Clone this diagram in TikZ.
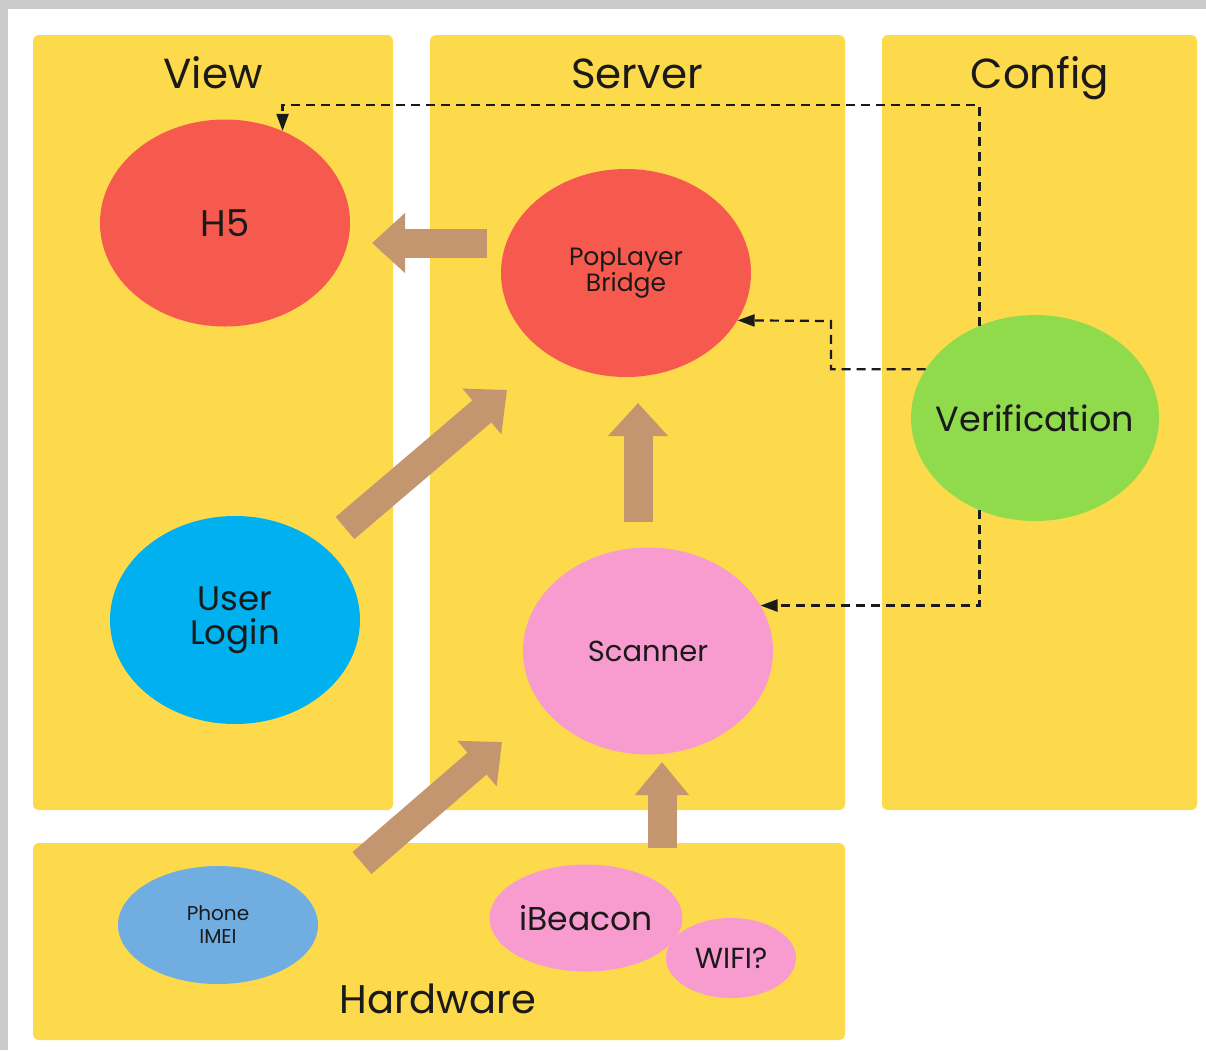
\documentclass[tikz,border=0pt]{standalone}
\usepackage{fontspec}
\setmainfont{Poppins}
\usetikzlibrary{arrows.meta,shapes.geometric}
\definecolor{panelc}{HTML}{FDD94C}
\definecolor{frame}{HTML}{CBCBCB}
\definecolor{redc}{HTML}{F65A4E}
\definecolor{greenc}{HTML}{8FDB4C}
\definecolor{bluec}{HTML}{00B0EF}
\definecolor{pinkc}{HTML}{F89BCF}
\definecolor{phonec}{HTML}{70AEE2}
\definecolor{arrowc}{HTML}{C3966F}
\definecolor{ink}{HTML}{1A1A1A}
\begin{document}
\begin{tikzpicture}[x=1pt,y=-1pt,
  panelbox/.style={fill=panelc, rounded corners=6pt},
  title/.style={text=ink, anchor=base, font=\fontsize{42}{46}\selectfont},
  ell/.style={ellipse, inner sep=0pt, text=ink, align=center},
  bigarrow/.style={draw=arrowc, line width=29pt, line cap=butt,
    -{Triangle[length=33pt,width=58pt]}},
  dsh/.style={draw=ink, line width=2.2pt, dash pattern=on 9pt off 6pt,
    -{Triangle[length=17pt,width=12pt]}}
]
\useasboundingbox (0,0) rectangle (1206,1050);
\fill[frame] (0,0) rectangle (1206,1050);
\fill[white] (8,9) rectangle (1206,1050);

% panels
\fill[panelbox] (33,35) rectangle (393,810);
\fill[panelbox] (430,35) rectangle (845,810);
\fill[panelbox] (882,35) rectangle (1197,810);
\fill[panelbox] (33,843) rectangle (845,1040);

% titles
\node[title] (tview) at (213,88) {View};
\node[title] (tserver) at (637,88) {Server};
\node[title] (tconfig) at (1040,88) {Config};
\node[title, font=\fontsize{40}{44}\selectfont] (thw) at (438,1013) {Hardware};

% ellipses
\node[ell, fill=redc, minimum width=250pt, minimum height=207pt,
  font=\fontsize{37}{42}\selectfont] (h5) at (225,223) {H5};
\node[ell, fill=redc, minimum width=250pt, minimum height=208pt,
  font=\fontsize{25}{23}\selectfont] (pop) at (626,273) {PopLayer\\Bridge};
\node[ell, fill=greenc, minimum width=248pt, minimum height=206pt,
  font=\fontsize{35}{40}\selectfont] (ver) at (1035,418) {\makebox[0pt]{Verification}};
\node[ell, fill=bluec, minimum width=250pt, minimum height=208pt,
  font=\fontsize{34}{34}\selectfont] (login) at (235,620) {User\\Login};
\node[ell, fill=pinkc, minimum width=250pt, minimum height=207pt,
  font=\fontsize{29}{32}\selectfont] (scan) at (648,651) {Scanner};
\node[ell, fill=phonec, minimum width=200pt, minimum height=118pt,
  font=\fontsize{20}{23}\selectfont] (imei) at (218,925) {Phone\\IMEI};
\node[ell, fill=pinkc, minimum width=193pt, minimum height=107pt,
  font=\fontsize{33}{36}\selectfont] (ibeacon) at (586,918) {\makebox[0pt]{iBeacon}};
\node[ell, fill=pinkc, minimum width=130pt, minimum height=80pt,
  font=\fontsize{29}{32}\selectfont] (wifi) at (731,958) {\makebox[0pt]{WIFI?}};

% big arrows
\coordinate (a1s) at (487,243); \coordinate (a1e) at (372,243);
\coordinate (a2s) at (345,528); \coordinate (a2e) at (507,390);
\coordinate (a3s) at (638,522); \coordinate (a3e) at (638,403);
\coordinate (a4s) at (362,863); \coordinate (a4e) at (502,742);
\coordinate (a5s) at (662,848); \coordinate (a5e) at (662,762);
\draw[bigarrow] (a1s) -- (a1e);
\draw[bigarrow] (a2s) -- (a2e);
\draw[bigarrow] (a3s) -- (a3e);
\draw[bigarrow] (a4s) -- (a4e);
\draw[bigarrow, -{Triangle[length=33pt,width=52pt]}] (a5s) -- (a5e);

% dashed connectors
\coordinate (topline) at (0,105);
\draw[dsh] (ver.121) |- (h5.58 |- topline) -- (h5.58);
\draw[dsh] (ver.156) -| (831,321) -- (pop.-23);
\draw[dsh] (ver.239) |- (scan.22);
\end{tikzpicture}
\end{document}
